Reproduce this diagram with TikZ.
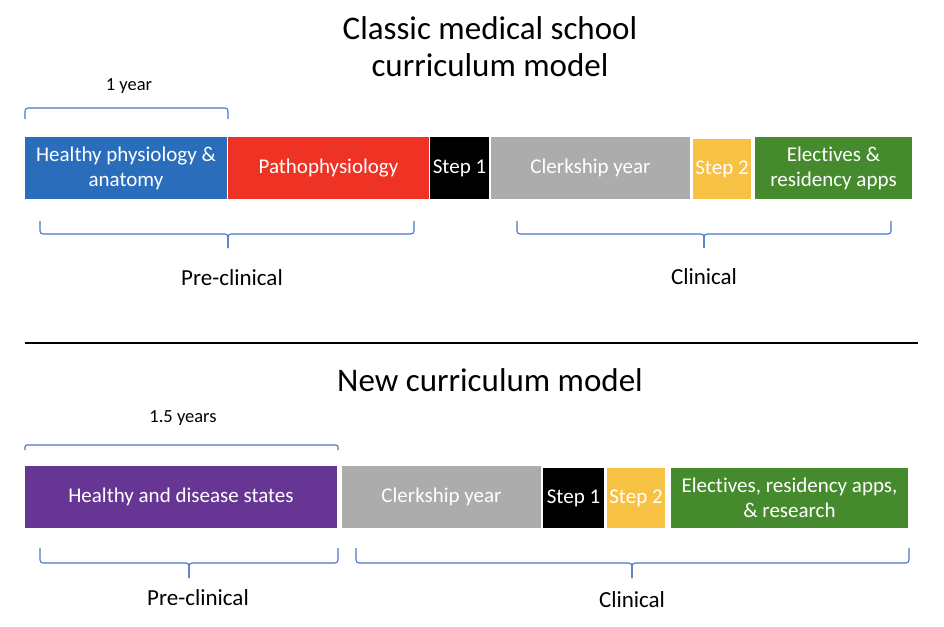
\documentclass[tikz,border=0pt]{standalone}
\usepackage{fontspec}
\setmainfont[Ligatures=NoCommon]{Carlito}
\definecolor{cblue}{HTML}{2A6EBB}
\definecolor{cred}{HTML}{EE3224}
\definecolor{cgray}{HTML}{ADACAC}
\definecolor{cyellow}{HTML}{F7C244}
\definecolor{cgreen}{HTML}{468A2E}
\definecolor{cpurple}{HTML}{673695}
\definecolor{cbrace}{HTML}{4A76C6}
\tikzset{
  seg/.style={inner sep=0pt, outer sep=0pt, text=white, align=center, font=\fontsize{21}{25}\selectfont},
  ttl/.style={inner sep=0pt, align=center, font=\fontsize{33}{37}\selectfont},
  lbl/.style={inner sep=0pt, font=\fontsize{23}{26}\selectfont},
  small/.style={inner sep=0pt, font=\fontsize{18.5}{22}\selectfont},
  brace/.style={draw=cbrace, line width=1.1pt, rounded corners=3pt},
}
\newcommand{\segbox}[6]{% name, x1, y1, x2, y2, colour
  \node[seg, fill=#6, minimum width={#4-#2}, minimum height={#5-#3}] (#1) at ({(#2+#4)/2},{(#3+#5)/2})}
\begin{document}
\begin{tikzpicture}[x=1pt,y=-1pt]
\useasboundingbox (0,0) rectangle (944,626);
% ---------- classic ----------
\node[ttl] (t1) at (490,47) {Classic medical school\\curriculum model};
\node[small] (y1) at (129,86) {1 year};
\draw[brace] (25,119) -- (25,108) -- (228,108) -- (228,119);
\segbox{a1}{25}{137}{227}{199}{cblue} {Healthy physiology \&\\anatomy};
\segbox{a2}{228}{137}{429}{199}{cred} {Pathophysiology};
\segbox{a3}{430}{137}{489}{199}{black} {Step 1};
\segbox{a4}{491}{137}{690}{199}{cgray} {Clerkship year};
\segbox{a5}{693}{139}{751}{199}{cyellow} {Step 2};
\segbox{a6}{755}{137}{912}{199}{cgreen} {Electives \&\\residency apps};
\draw[brace] (40,221) -- (40,234) -- (228,234) -- (228,248);
\draw[brace] (228,248) -- (228,234) -- (414,234) -- (414,221);
\draw[brace] (517,221) -- (517,234) -- (704,234) -- (704,248);
\draw[brace] (704,248) -- (704,234) -- (891,234) -- (891,221);
\node[lbl] (p1) at (232,278) {Pre-clinical};
\node[lbl] (c1) at (704,277) {Clinical};
% divider
\draw[line width=1.4pt] (25,343) -- (918,343);
% ---------- new ----------
\node[ttl] (t2) at (490,380) {New curriculum model};
\node[small] (y2) at (183,418) {1.5 years};
\draw[brace, rounded corners=2pt] (25,450) -- (25,445) -- (338,445) -- (338,450);
\segbox{b1}{25}{466}{337}{528}{cpurple} {Healthy and disease states};
\segbox{b2}{342}{466}{541}{528}{cgray} {Clerkship year};
\segbox{b3}{543}{468}{604}{528}{black} {Step 1};
\segbox{b4}{607}{468}{665}{528}{cyellow} {Step 2};
\segbox{b5}{671}{468}{908}{528}{cgreen} {Electives, residency apps,\\\& research};
\draw[brace] (40,548) -- (40,563) -- (189,563) -- (189,578);
\draw[brace] (189,578) -- (189,563) -- (338,563) -- (338,548);
\draw[brace] (356,548) -- (356,563) -- (632,563) -- (632,578);
\draw[brace] (632,578) -- (632,563) -- (909,563) -- (909,548);
\node[lbl] (p2) at (198,598) {Pre-clinical};
\node[lbl] (c2) at (632,600) {Clinical};
\end{tikzpicture}
\end{document}
